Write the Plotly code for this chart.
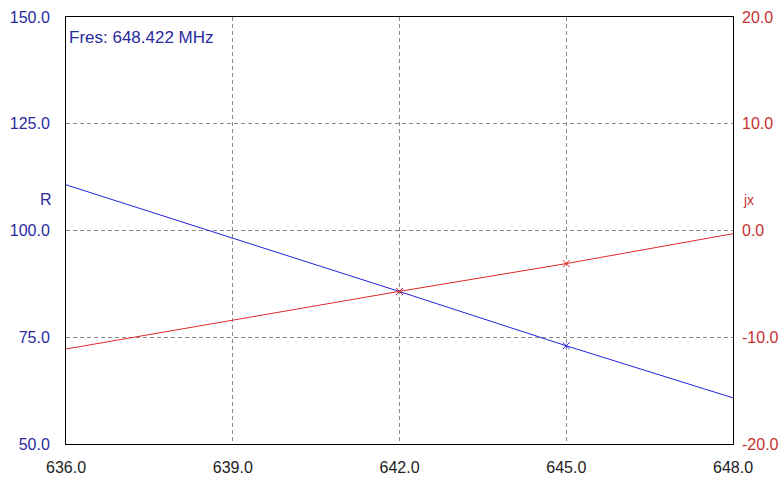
import plotly.graph_objects as go

freq = [636.0, 642.0, 645.0, 648.0]
r_vals = [110.7, 85.7, 73.0, 60.8]
jx_vals = [-11.1, -5.7, -3.1, -0.3]
marker_freq = [642.0, 645.0]
marker_r = [85.7, 73.0]
marker_jx = [-5.7, -3.1]
x_ticks = [636.0, 639.0, 642.0, 645.0, 648.0]
r_ticks = [50.0, 75.0, 100.0, 125.0, 150.0]
jx_ticks = [-20.0, -10.0, 0.0, 10.0, 20.0]

BLUE = "#2222dd"
RED = "#e02828"
LBLUE = "#2a2aa0"
LRED = "#c83030"
GRID = "#8a8a8a"
FONT = "Liberation Sans, Arial, sans-serif"

fig = go.Figure()
fig.add_trace(go.Scatter(x=freq, y=r_vals, mode="lines", line=dict(color=BLUE, width=1), yaxis="y"))
fig.add_trace(go.Scatter(x=marker_freq, y=marker_r, mode="markers",
                         marker=dict(symbol="x-thin", size=7, line=dict(color=BLUE, width=1)), yaxis="y"))
fig.add_trace(go.Scatter(x=freq, y=jx_vals, mode="lines", line=dict(color=RED, width=1), yaxis="y2"))
fig.add_trace(go.Scatter(x=marker_freq, y=marker_jx, mode="markers",
                         marker=dict(symbol="x-thin", size=7, line=dict(color=RED, width=1)), yaxis="y2"))

fig.update_layout(
    width=782, height=482,
    margin=dict(l=66, r=49, t=17, b=38),
    paper_bgcolor="white", plot_bgcolor="white",
    showlegend=False,
    font=dict(family=FONT, size=16, color="#222222"),
    xaxis=dict(range=[636, 648], tickvals=x_ticks, ticktext=[f"{v:.1f}" for v in x_ticks],
               showgrid=True, gridcolor=GRID, griddash="4px,3px", gridwidth=1,
               zeroline=False, ticks="", tickfont=dict(color="#222222", size=16),
               ticklabelstandoff=9, automargin=False,
               showline=True, linecolor="black", linewidth=1, mirror=True),
    yaxis=dict(range=[50, 150], tickvals=r_ticks, ticktext=[f"{v:.1f}" for v in r_ticks],
               showgrid=True, gridcolor=GRID, griddash="4px,3px", gridwidth=1,
               zeroline=False, ticks="", tickfont=dict(color=LBLUE, size=16),
               ticklabelstandoff=12, automargin=False,
               showline=True, linecolor="black", linewidth=1, mirror=True),
    yaxis2=dict(range=[-20, 20], tickvals=jx_ticks, ticktext=[f"{v:.1f}" for v in jx_ticks],
                overlaying="y", side="right", showgrid=False, zeroline=False, ticks="",
                ticklabelstandoff=8, automargin=False, tickfont=dict(color=LRED, size=16)),
    annotations=[
        dict(text="Fres: 648.422 MHz", xref="paper", yref="paper", x=0.0, y=1.0,
             xanchor="left", yanchor="top", xshift=1, yshift=-9, showarrow=False,
             font=dict(color=LBLUE, size=17, family=FONT)),
        dict(text="R", xref="paper", yref="paper", x=0.0, y=(444 - 199) / 427,
             xanchor="right", yanchor="middle", xshift=-12, showarrow=False,
             font=dict(color=LBLUE, size=16, family=FONT)),
        dict(text="jx", xref="paper", yref="paper", x=1.0, y=(444 - 200) / 427,
             xanchor="left", yanchor="middle", xshift=8, showarrow=False,
             font=dict(color=LRED, size=14, family=FONT)),
    ],
)

fig.write_html("out.html")
